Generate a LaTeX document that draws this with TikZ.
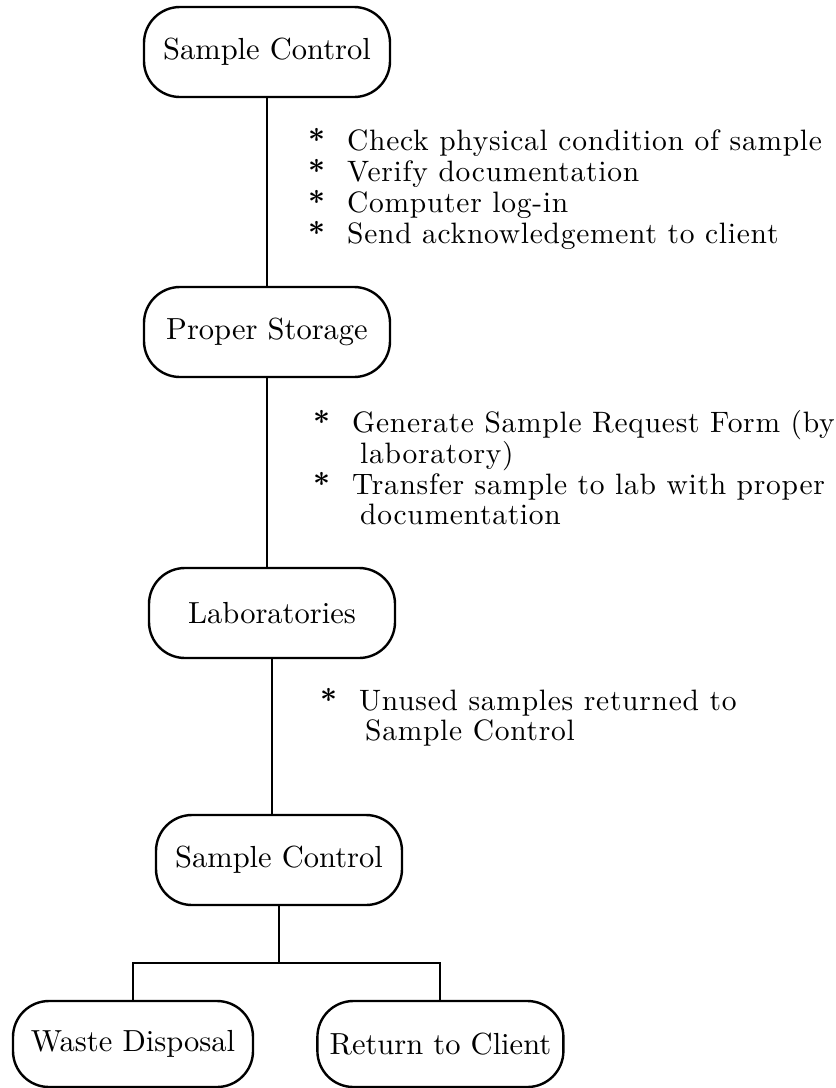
\documentclass[tikz,border=0pt]{standalone}
\usepackage{fontspec}
\setmainfont{lmroman10-regular.otf}[BoldFont=lmroman10-bold.otf]
\usetikzlibrary{positioning}
\tikzset{
myStep/.style={
	draw, rectangle, rounded corners=36pt, line width=2.4pt,
	minimum width=246pt, minimum height=90pt,
	inner sep=0pt, text=black,
	font=\fontsize{30.5}{30}\selectfont
}
, myNote/.style={
	anchor=base west, inner sep=0pt, text=black,
	font=\fontsize{29.5}{30}\selectfont\addfontfeatures{LetterSpace=2.5}
}
% link
, myLink/.style={line width=2pt}
}
\newcommand{\myStar}{{\bfseries *}}

\begin{document}
\begin{tikzpicture}[x=1pt,y=-1pt]
	\useasboundingbox[fill=white] (0,0) rectangle (836,1088);
	% nodes
	\node[myStep] (Control) at (267,52) {Sample Control};
	\node[myStep] (Storage) at (267,332) {Proper Storage};
	\node[myStep] (Lab) at (272,613) {Laboratories};
	\node[myStep] (ControlB) at (279,860) {Sample Control};
	\node[myStep, minimum width=240pt, minimum height=86pt] (Waste) at (133,1044) {Waste Disposal};
	\node[myStep, minimum height=86pt] (Client) [right=62pt of Waste] {Return to Client};

	% notes
	\node[myNote] (NoteA) at (308,150) {\begin{tabular}[t]{@{}l@{\hspace{22pt}}l@{}}
		\myStar & Check physical condition of sample\\
		\myStar & Verify documentation\\
		\myStar & Computer log-in\\
		\myStar & Send acknowledgement to client
	\end{tabular}};
	\node[myNote] (NoteB) at (313,432) {\begin{tabular}[t]{@{}l@{\hspace{22pt}}l@{}}
		\myStar & Generate Sample Request Form (by\\
		        & \hspace{8pt}laboratory)\\
		\myStar & Transfer sample to lab with proper\\
		        & \hspace{8pt}documentation
	\end{tabular}};
	\node[myNote] (NoteC) at (320,710) {\begin{tabular}[t]{@{}l@{\hspace{22pt}}l@{}}
		\myStar & Unused samples returned to\\
		        & \hspace{6pt}Sample Control
	\end{tabular}};

	% links
	\draw[myLink] (Control.south) -- (Control.south |- Storage.north);
	\draw[myLink] (Storage.south) -- (Storage.south |- Lab.north);
	\draw[myLink] (Lab.south) -- (Lab.south |- ControlB.north);
	\draw[myLink] (ControlB.south) -- ++(0,57) coordinate (Fork);
	\draw[myLink] (Waste.north) |- (Fork) -| (Client.north);
\end{tikzpicture}
\end{document}
